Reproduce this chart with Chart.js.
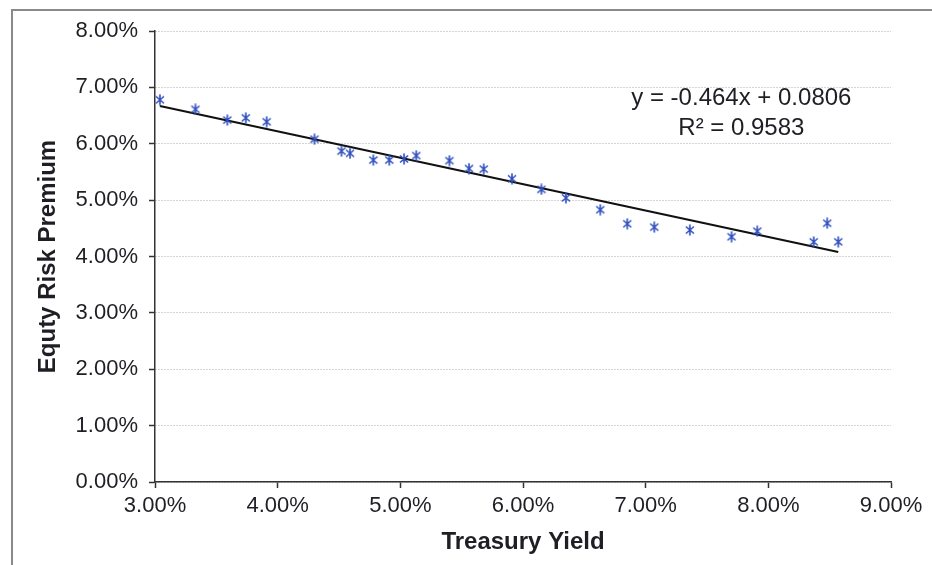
<!DOCTYPE html>
<html>
<head>
<meta charset="utf-8">
<script src="https://cdn.jsdelivr.net/npm/chart.js@4.4.1/dist/chart.umd.min.js"></script>
<style>
  html, body { margin: 0; padding: 0; background: #fff; }
  #wrap { width: 932px; height: 565px; }
</style>
</head>
<body>
<div id="wrap"><canvas id="chart" width="932" height="565"></canvas></div>
<script>
// Treasury yield (%) vs equity risk premium (%)
const treasuryYield = [3.04, 3.33, 3.59, 3.74, 3.91, 4.30, 4.52, 4.59, 4.78, 4.91, 5.03, 5.13, 5.40, 5.56,
  5.68, 5.91, 6.15, 6.35, 6.63, 6.85, 7.07, 7.36, 7.70, 7.91, 8.37, 8.48, 8.57];
const riskPremium = [6.78, 6.61, 6.42, 6.46, 6.39, 6.08, 5.87, 5.83, 5.71, 5.71, 5.73, 5.79, 5.70, 5.56,
  5.55, 5.38, 5.19, 5.04, 4.83, 4.58, 4.52, 4.47, 4.35, 4.45, 4.26, 4.59, 4.26];

// linear trendline ends
const trendX = [3.04, 8.57];
const trendY = [6.67, 4.08];

const xTicks = [3, 4, 5, 6, 7, 8, 9];
const yTicks = [0, 1, 2, 3, 4, 5, 6, 7, 8];

const equationLines = ["y = -0.464x + 0.0806", "R\u00b2 = 0.9583"];
const equationAt = { x: 7.78, y: 6.81 };

const FONT = "'Liberation Sans', Arial, sans-serif";
const TEXT = "#1e1e24";
const BLUE = "#2f4fbf";

function pct(v) {
  return v.toFixed(2) + "%";
}

// Excel-like star marker: an x with a vertical bar
function starMarker() {
  const c = document.createElement("canvas");
  c.width = 12;
  c.height = 12;
  const g = c.getContext("2d");
  g.strokeStyle = BLUE;
  g.lineWidth = 1.6;
  g.beginPath();
  g.moveTo(2, 2.5); g.lineTo(10, 9.5);
  g.moveTo(10, 2.5); g.lineTo(2, 9.5);
  g.moveTo(6, 0.5); g.lineTo(6, 11.5);
  g.stroke();
  return c;
}

const frame = {
  id: "frame",
  afterDraw(chart) {
    const ctx = chart.ctx;
    ctx.save();
    ctx.strokeStyle = "#8a8a8a";
    ctx.lineWidth = 2;
    ctx.beginPath();
    ctx.moveTo(12, 565);
    ctx.lineTo(12, 10);
    ctx.lineTo(932, 10);
    ctx.stroke();

    // trendline equation
    const px = chart.scales.x.getPixelForValue(equationAt.x);
    const py = chart.scales.y.getPixelForValue(equationAt.y);
    ctx.fillStyle = TEXT;
    ctx.font = "24px " + FONT;
    ctx.textAlign = "center";
    ctx.textBaseline = "middle";
    equationLines.forEach((t, i) => ctx.fillText(t, px, py + i * 30));
    ctx.restore();
  }
};

const points = treasuryYield.map((x, i) => ({ x: x, y: riskPremium[i] }));
const trend = trendX.map((x, i) => ({ x: x, y: trendY[i] }));

new Chart(document.getElementById("chart"), {
  type: "scatter",
  data: {
    datasets: [
      {
        label: "Equity Risk Premium",
        data: points,
        pointStyle: starMarker(),
        pointRadius: 6,
        order: 1
      },
      {
        label: "Linear trend",
        data: trend,
        showLine: true,
        borderColor: "#111",
        borderWidth: 2.2,
        pointRadius: 0,
        order: 2
      }
    ]
  },
  options: {
    responsive: false,
    animation: false,
    layout: { padding: { left: 0, right: 41, top: 31, bottom: 0 } },
    plugins: {
      legend: { display: false },
      tooltip: { enabled: false }
    },
    scales: {
      x: {
        type: "linear",
        min: 3,
        max: 9,
        afterBuildTicks: s => { s.ticks = xTicks.map(v => ({ value: v })); },
        afterFit: s => { s.height = 83; },
        ticks: {
          color: TEXT,
          font: { family: FONT, size: 22 },
          padding: 5,
          callback: v => pct(v)
        },
        grid: {
          drawOnChartArea: false,
          tickLength: 6,
          tickColor: "#333",
          tickWidth: 1.5
        },
        border: { color: "#333", width: 1.5 },
        title: {
          display: true,
          text: "Treasury Yield",
          color: TEXT,
          font: { family: FONT, size: 24, weight: "bold" },
          padding: { top: 0, bottom: 8 }
        }
      },
      y: {
        type: "linear",
        min: 0,
        max: 8,
        afterBuildTicks: s => { s.ticks = yTicks.map(v => ({ value: v })); },
        afterFit: s => { s.width = 155; },
        ticks: {
          color: TEXT,
          font: { family: FONT, size: 22 },
          padding: 11,
          callback: v => pct(v)
        },
        grid: {
          color: "#a8a8a8",
          lineWidth: 1,
          tickLength: 6,
          tickColor: "#333",
          tickWidth: 1.5,
          tickBorderDash: []
        },
        border: { color: "#333", width: 1.5, dash: [1, 2] },
        title: {
          display: true,
          text: "Equty Risk Premium",
          color: TEXT,
          font: { family: FONT, size: 24, weight: "bold" },
          padding: { top: 34, bottom: 0 }
        }
      }
    }
  },
  plugins: [frame]
});
</script>
</body>
</html>
